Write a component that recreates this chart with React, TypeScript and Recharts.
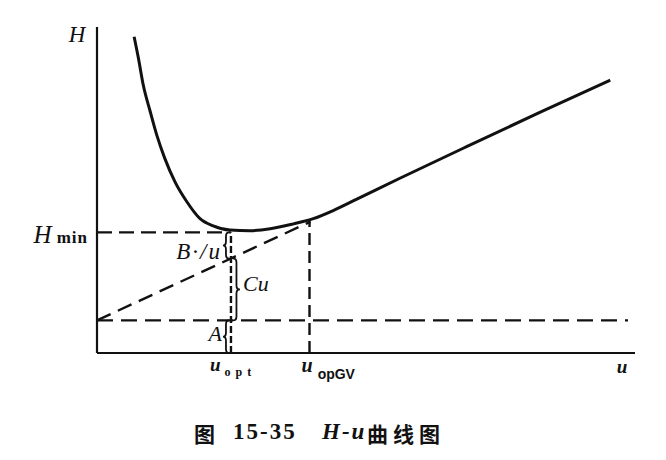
import React from 'react';
import {
  LineChart,
  Line,
  XAxis,
  YAxis,
  ReferenceLine,
  ReferenceDot,
} from 'recharts';

// H-u (van Deemter) curve, values in arbitrary units
const curveU = [0.69, 0.77, 0.86, 0.99, 1.11, 1.26, 1.45, 1.67, 1.91, 2.16, 2.47, 2.84, 3.22, 3.65, 4.02, 4.39, 4.83, 5.63, 6.87, 8.23, 9.54];
const curveH = [9.7, 9.04, 8.22, 7.4, 6.69, 5.97, 5.25, 4.64, 4.13, 3.9, 3.77, 3.75, 3.81, 3.96, 4.12, 4.37, 4.72, 5.36, 6.33, 7.38, 8.37];

// guide lines
const aLevel = 1.0;
const aLineEnd = 9.87;
const hMin = 3.7;
const uOpt = 2.49;
const uOpGV = 3.95;
const cuLineU = [0, 3.97];
const cuLineH = [1.0, 4.03];
const cuAtOpt = 2.9;

const data = curveU.map((u, i) => ({ u, h: curveH[i] }));

const SERIF = '"Liberation Serif", "DejaVu Serif", serif';
const CJK = '"Noto Sans CJK SC", sans-serif';
const INK = '#111';

const bracePath = (x: number, ya: number, yb: number, dir: number, w: number) => {
  const top = Math.min(ya, yb);
  const bot = Math.max(ya, yb);
  const mid = (top + bot) / 2;
  const xm = x + dir * w * 0.5;
  const xt = x + dir * w;
  const r = Math.min(4, (bot - top) / 4);
  return `M${x},${top} Q${xm},${top} ${xm},${top + r} L${xm},${mid - r} Q${xm},${mid} ${xt},${mid} Q${xm},${mid} ${xm},${mid + r} L${xm},${bot - r} Q${xm},${bot} ${x},${bot}`;
};

const brace = (dx: number, dir: number, w: number) => (p: any) => (
  <path
    d={bracePath(p.x1 + dx, p.y1, p.y2, dir, w)}
    fill="none"
    stroke={INK}
    strokeWidth={1.8}
  />
);

const label = (render: (cx: number, cy: number) => React.ReactNode) => (p: any) => (
  <g>{render(p.cx, p.cy)}</g>
);

const dash = { stroke: INK, strokeWidth: 2.4 };

export default function App() {
  return (
    <div style={{ position: 'absolute', left: 0, top: 0, width: 666, height: 460, background: '#fff' }}>
      <LineChart
        width={666}
        height={460}
        data={data}
        margin={{ top: 27, right: 31, left: 97, bottom: 107 }}
      >
        <XAxis type="number" dataKey="u" domain={[0, 10]} hide />
        <YAxis type="number" domain={[0, 10]} hide />

        {/* axes */}
        <ReferenceLine segment={[{ x: 0, y: 0 }, { x: 10, y: 0 }]} stroke={INK} strokeWidth={2.2} />
        <ReferenceLine segment={[{ x: 0, y: 0 }, { x: 0, y: 10 }]} stroke={INK} strokeWidth={2.2} />

        <ReferenceLine segment={[{ x: 0, y: hMin }, { x: uOpt, y: hMin }]} {...dash} strokeDasharray="15 7" />
        <ReferenceLine segment={[{ x: 0, y: aLevel }, { x: aLineEnd, y: aLevel }]} {...dash} strokeDasharray="16 8" />
        <ReferenceLine
          segment={[{ x: cuLineU[0], y: cuLineH[0] }, { x: cuLineU[1], y: cuLineH[1] }]}
          {...dash}
          strokeDasharray="15 8"
        />
        <ReferenceLine segment={[{ x: uOpt, y: 0 }, { x: uOpt, y: hMin }]} {...dash} strokeDasharray="7 3" />
        <ReferenceLine segment={[{ x: uOpGV, y: 0 }, { x: uOpGV, y: cuLineH[1] }]} {...dash} strokeDasharray="12 6" />

        <ReferenceLine segment={[{ x: uOpt, y: hMin }, { x: uOpt, y: cuAtOpt }]} shape={brace(-2, -1, 6)} />
        <ReferenceLine segment={[{ x: uOpt, y: cuAtOpt }, { x: uOpt, y: aLevel }]} shape={brace(2, 1, 7)} />
        <ReferenceLine segment={[{ x: uOpt, y: aLevel }, { x: uOpt, y: 0 }]} shape={brace(-2, -1, 6)} />

        <Line
          type="monotone"
          dataKey="h"
          stroke={INK}
          strokeWidth={3}
          dot={false}
          isAnimationActive={false}
        />

        {/* axis titles and annotations */}
        <ReferenceDot
          x={0}
          y={10}
          r={0}
          ifOverflow="visible"
          shape={label((cx, cy) => (
            <text x={cx - 20} y={cy + 15} textAnchor="middle" fontFamily={SERIF} fontStyle="italic" fontSize={23} fill={INK}>
              H
            </text>
          ))}
        />
        <ReferenceDot
          x={10}
          y={0}
          r={0}
          ifOverflow="visible"
          shape={label((cx, cy) => (
            <text x={cx - 13} y={cy + 20} textAnchor="middle" fontFamily={SERIF} fontStyle="italic" fontWeight="bold" fontSize={19} fill={INK}>
              u
            </text>
          ))}
        />
        <ReferenceDot
          x={0}
          y={hMin}
          r={0}
          ifOverflow="visible"
          shape={label((cx, cy) => (
            <text x={cx - 9} y={cy + 11} textAnchor="end" fontFamily={SERIF} fill={INK}>
              <tspan fontStyle="italic" fontSize={25}>H</tspan>
              <tspan dx={5} fontSize={17} fontWeight="bold" letterSpacing={1}>min</tspan>
            </text>
          ))}
        />
        <ReferenceDot
          x={uOpt}
          y={0}
          r={0}
          ifOverflow="visible"
          shape={label((cx, cy) => (
            <text x={cx - 21} y={cy + 18} fontFamily={SERIF} fill={INK}>
              <tspan fontStyle="italic" fontWeight="bold" fontSize={19}>u</tspan>
              <tspan dx={4} dy={5} fontSize={12} fontWeight="bold" letterSpacing={5}>opt</tspan>
            </text>
          ))}
        />
        <ReferenceDot
          x={uOpGV}
          y={0}
          r={0}
          ifOverflow="visible"
          shape={label((cx, cy) => (
            <text x={cx - 8} y={cy + 19} fontFamily={SERIF} fill={INK}>
              <tspan fontStyle="italic" fontWeight="bold" fontSize={20}>u</tspan>
              <tspan dx={5} dy={7} fontSize={14} fontFamily='"Liberation Sans", sans-serif' fontWeight="bold">opGV</tspan>
            </text>
          ))}
        />
        <ReferenceDot
          x={uOpt}
          y={hMin}
          r={0}
          ifOverflow="visible"
          shape={label((cx, cy) => (
            <text x={cx - 9} y={cy + 27} textAnchor="end" fontFamily={SERIF} fontStyle="italic" fontSize={23} letterSpacing={2} fill={INK}>
              B·/u
            </text>
          ))}
        />
        <ReferenceDot
          x={uOpt}
          y={aLevel}
          r={0}
          ifOverflow="visible"
          shape={label((cx, cy) => (
            <text x={cx + 12} y={cy - 29} fontFamily={SERIF} fontStyle="italic" fontSize={22} fill={INK}>
              Cu
            </text>
          ))}
        />
        <ReferenceDot
          x={uOpt}
          y={0}
          r={0}
          ifOverflow="visible"
          shape={label((cx, cy) => (
            <text x={cx - 9} y={cy - 12} textAnchor="end" fontFamily={SERIF} fontStyle="italic" fontSize={22} fill={INK}>
              A
            </text>
          ))}
        />
      </LineChart>

      <div
        style={{
          position: 'absolute',
          top: 418,
          left: 0,
          width: 666,
          height: 30,
          color: INK,
          fontWeight: 'bold',
          fontSize: 21,
          whiteSpace: 'nowrap',
        }}
      >
        <span style={{ position: 'absolute', left: 194, fontFamily: CJK }}>图</span>
        <span style={{ position: 'absolute', left: 233, top: 1, fontFamily: SERIF, fontSize: 23, letterSpacing: 2 }}>15-35</span>
        <span style={{ position: 'absolute', left: 322, top: 1, fontFamily: SERIF, fontStyle: 'italic', fontSize: 23, letterSpacing: 2 }}>H-u</span>
        <span style={{ position: 'absolute', left: 367, fontFamily: CJK, letterSpacing: 5 }}>曲线图</span>
      </div>
    </div>
  );
}
